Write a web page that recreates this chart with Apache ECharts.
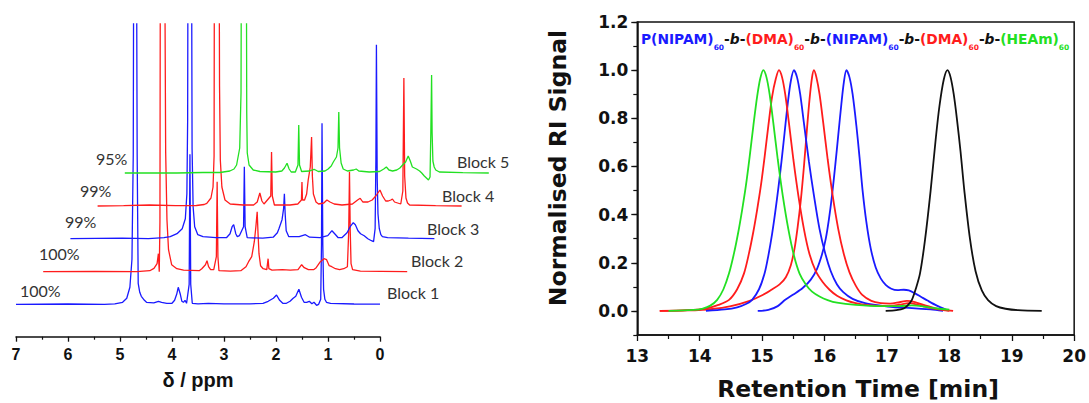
<!DOCTYPE html>
<html><head><meta charset="utf-8">
<script src="https://cdn.jsdelivr.net/npm/echarts@6/dist/echarts.min.js"></script>
<style>html,body{margin:0;padding:0;background:#fff}#c{width:1089px;height:403px}</style>
</head><body><div id="c"></div>
<script>
// ---------- DATA: 1H NMR spectra, [ppm, intensity] ----------
const block1 = [[7.0,0],[6.0,0.3],[5.3,0],[5.1,0.5],[4.95,2],[4.87,6],[4.81,17],[4.77,45],[4.745,150],[4.735,400],[4.685,400],[4.67,150],[4.65,21],[4.62,12],[4.59,8],[4.53,4],[4.49,2],[4.35,1.5],[4.26,3],[4.2,2],[4.1,1],[4.0,1],[3.95,4],[3.91,10],[3.88,17],[3.84,10],[3.81,3],[3.78,2],[3.75,4],[3.72,1],[3.67,20],[3.655,150],[3.64,20],[3.61,1],[3.5,0.5],[3.3,1],[3.0,0.5],[2.5,0.5],[2.25,1],[2.15,3],[2.05,6],[1.99,9.3],[1.93,4],[1.87,1],[1.80,1],[1.73,3],[1.67,6],[1.62,8],[1.56,15],[1.51,7],[1.46,2],[1.41,2],[1.36,3],[1.31,0.5],[1.27,2],[1.22,-1],[1.18,0],[1.14,5],[1.125,60],[1.115,181],[1.10,60],[1.085,15],[1.06,5],[1.03,2],[0.95,1],[0.5,0.3],[0,0.2]];
const block2 = [[7.0,0],[6.0,0.3],[5.2,0],[4.95,1],[4.87,3.3],[4.81,8],[4.785,18],[4.772,18],[4.768,0],[4.755,50],[4.745,400],[4.67,400],[4.645,120],[4.62,52],[4.59,22],[4.53,7],[4.43,3],[4.3,1.5],[4.0,1],[3.95,3],[3.88,7],[3.85,11],[3.82,5],[3.78,2],[3.72,2],[3.67,15],[3.655,90],[3.64,15],[3.62,1],[3.4,0.5],[3.2,1],[3.1,5],[3.05,10],[2.99,15],[2.94,30],[2.91,45],[2.885,60],[2.87,40],[2.85,18],[2.82,6],[2.77,3],[2.70,2],[2.675,13],[2.66,3],[2.6,1.5],[2.4,2],[2.25,1.5],[2.1,2],[2.03,7],[1.98,4],[1.9,2],[1.8,2],[1.75,4],[1.67,10],[1.6,13],[1.55,12],[1.5,6],[1.45,5],[1.38,3],[1.3,2],[1.22,3],[1.15,5],[1.125,40],[1.11,100],[1.095,40],[1.08,8],[1.05,2],[0.9,0.5],[0.5,0.3],[0.0,0]];
const block3 = [[7.0,0],[6.0,0.5],[5.5,0],[5.2,1],[5.08,2],[4.95,5],[4.85,10],[4.79,20],[4.76,45],[4.745,120],[4.735,400],[4.675,400],[4.66,90],[4.64,32],[4.61,12],[4.55,4],[4.45,2],[4.2,1],[4.0,1],[3.93,5],[3.89,12],[3.86,14],[3.82,5],[3.79,2],[3.75,3],[3.67,12],[3.655,72],[3.64,12],[3.6,1],[3.3,0.5],[3.1,1.5],[3.02,6],[2.99,10],[2.93,19],[2.9,30],[2.885,45],[2.87,25],[2.85,8],[2.8,2],[2.6,2],[2.48,4],[2.4,1.5],[2.2,1],[2.05,3],[1.97,8],[1.9,4],[1.85,1],[1.78,1],[1.68,6],[1.62,12],[1.56,16],[1.52,14],[1.47,8],[1.42,5],[1.35,3],[1.28,0],[1.21,-2],[1.17,-3],[1.14,10],[1.125,80],[1.115,194],[1.10,60],[1.085,25],[1.06,10],[1.03,4],[1.0,2],[0.9,1],[0.5,0.5],[0,0]];
const block4 = [[7.0,0],[6.5,0.3],[6.0,1],[5.5,0.3],[5.1,0.5],[4.95,1.5],[4.90,2.7],[4.82,8],[4.78,19],[4.76,50],[4.75,400],[4.67,400],[4.655,120],[4.64,46],[4.61,19],[4.55,6],[4.45,2],[4.2,1],[4.0,1],[3.93,4],[3.88,13],[3.84,5],[3.8,2],[3.67,10],[3.655,54],[3.64,10],[3.6,1],[3.3,1],[3.15,2],[3.08,6],[3.07,24],[3.06,6],[3.02,6],[2.98,12],[2.95,26],[2.91,39],[2.885,69],[2.87,30],[2.85,12],[2.80,4],[2.75,2],[2.65,3],[2.59,6],[2.53,4],[2.45,2],[2.3,1],[2.1,2],[2.0,6],[1.95,7.7],[1.9,4],[1.8,4],[1.72,6],[1.65,10],[1.57,16],[1.52,10],[1.46,5],[1.41,5],[1.36,6],[1.33,7],[1.29,4],[1.23,3],[1.17,2],[1.13,15],[1.11,128],[1.095,30],[1.07,8],[1.04,3],[1.0,1],[0.5,0.3],[0,0]];
const block5 = [[7.0,0],[6.0,0],[5.5,0.5],[5.17,0.5],[4.98,2],[4.90,4],[4.85,8],[4.79,25],[4.765,80],[4.75,400],[4.67,400],[4.655,60],[4.645,20],[4.61,8],[4.53,3],[4.4,1.5],[4.1,1],[3.98,2],[3.93,5],[3.88,9.7],[3.84,4],[3.80,1],[3.72,1],[3.67,8],[3.655,48],[3.64,8],[3.6,1.5],[3.45,2],[3.36,3.7],[3.28,1.5],[3.15,2],[3.09,4],[3.03,7],[2.99,11],[2.93,16],[2.9,25],[2.885,61],[2.87,25],[2.84,10],[2.80,4],[2.72,2],[2.6,3],[2.55,4],[2.5,2],[2.3,1],[2.1,1.5],[2.02,4],[1.97,6],[1.92,3],[1.85,2],[1.77,3],[1.71,5],[1.64,9],[1.6,11],[1.55,17],[1.51,12],[1.47,6],[1.39,4],[1.33,2],[1.29,0],[1.24,-3],[1.20,-5],[1.16,-7],[1.13,-4],[1.115,40],[1.10,98],[1.09,40],[1.075,12],[1.05,6],[1.02,3],[0.95,1],[0.5,0.3],[0,0]];
const blockNames = ['Block 1','Block 2','Block 3','Block 4','Block 5'];
const conversions = ['100%','100%','99%','99%','95%'];
const ppmAxisName = 'δ / ppm';

// ---------- DATA: SEC traces, [retention time (min), normalised RI] ----------
const secBlack = [[16.98,0],[17.15,0.003],[17.27,0.01],[17.34,0.025],[17.40,0.046],[17.46,0.09],[17.53,0.156],[17.61,0.295],[17.70,0.5],[17.78,0.71],[17.84,0.848],[17.91,0.96],[17.97,1.0],[18.02,0.97],[18.07,0.9],[18.12,0.8],[18.18,0.66],[18.24,0.5],[18.33,0.3],[18.42,0.165],[18.52,0.085],[18.62,0.045],[18.75,0.02],[18.9,0.009],[19.1,0.003],[19.48,0]];
const secBlock1 = [[14.93,0],[15.1,0.004],[15.25,0.02],[15.37,0.046],[15.5,0.068],[15.65,0.095],[15.78,0.13],[15.88,0.175],[15.96,0.235],[16.02,0.3],[16.07,0.38],[16.12,0.48],[16.17,0.6],[16.22,0.73],[16.27,0.86],[16.31,0.95],[16.35,1.0],[16.4,0.97],[16.45,0.9],[16.51,0.77],[16.56,0.64],[16.61,0.5],[16.67,0.37],[16.74,0.26],[16.82,0.18],[16.9,0.135],[16.98,0.108],[17.07,0.092],[17.17,0.086],[17.27,0.088],[17.35,0.085],[17.45,0.073],[17.55,0.058],[17.65,0.043],[17.8,0.022],[17.95,0.005]];
const secBlock2 = [[13.36,0],[13.8,0.002],[14.2,0.008],[14.5,0.02],[14.8,0.042],[15.0,0.065],[15.15,0.088],[15.28,0.11],[15.38,0.14],[15.46,0.19],[15.52,0.26],[15.57,0.35],[15.62,0.46],[15.67,0.6],[15.72,0.76],[15.76,0.88],[15.8,0.97],[15.83,1.0],[15.87,0.97],[15.92,0.9],[15.98,0.78],[16.05,0.63],[16.13,0.48],[16.22,0.34],[16.31,0.235],[16.4,0.16],[16.5,0.105],[16.6,0.068],[16.75,0.042],[16.9,0.032],[17.05,0.03],[17.2,0.036],[17.32,0.042],[17.45,0.037],[17.6,0.024],[17.8,0.01],[18.06,0]];
const secBlock3 = [[14.1,0],[14.4,0.006],[14.6,0.015],[14.75,0.03],[14.84,0.046],[14.95,0.09],[15.04,0.156],[15.1,0.23],[15.16,0.32],[15.21,0.41],[15.26,0.51],[15.31,0.62],[15.36,0.74],[15.41,0.86],[15.46,0.955],[15.51,1.0],[15.56,0.97],[15.61,0.9],[15.67,0.78],[15.75,0.62],[15.83,0.48],[15.92,0.34],[16.01,0.24],[16.1,0.165],[16.2,0.11],[16.3,0.078],[16.45,0.05],[16.65,0.032],[16.9,0.022],[17.1,0.016],[17.4,0.012],[17.7,0.006],[17.9,0]];
const secBlock4 = [[13.36,0],[13.8,0.003],[14.1,0.01],[14.3,0.025],[14.47,0.046],[14.6,0.09],[14.71,0.156],[14.79,0.24],[14.86,0.33],[14.92,0.42],[14.98,0.52],[15.04,0.64],[15.1,0.77],[15.16,0.89],[15.22,0.965],[15.27,1.0],[15.32,0.97],[15.37,0.9],[15.43,0.78],[15.5,0.63],[15.58,0.48],[15.67,0.34],[15.76,0.235],[15.86,0.165],[15.97,0.12],[16.08,0.088],[16.2,0.063],[16.35,0.044],[16.5,0.032],[16.7,0.024],[17.0,0.02],[17.2,0.026],[17.35,0.032],[17.5,0.025],[17.7,0.012],[18.0,0]];
const secBlock5 = [[13.5,0],[13.9,0.004],[14.05,0.01],[14.17,0.022],[14.28,0.046],[14.38,0.09],[14.47,0.156],[14.55,0.24],[14.62,0.33],[14.68,0.42],[14.74,0.52],[14.8,0.64],[14.86,0.77],[14.92,0.89],[14.97,0.965],[15.02,1.0],[15.07,0.97],[15.12,0.9],[15.18,0.78],[15.25,0.63],[15.33,0.48],[15.42,0.34],[15.51,0.23],[15.6,0.155],[15.7,0.11],[15.8,0.08],[15.92,0.06],[16.05,0.045],[16.2,0.034],[16.5,0.025],[16.9,0.02],[17.2,0.02],[17.4,0.023],[17.6,0.018],[17.8,0.01],[18.0,0.005]];
const secYTicks = [0, 0.2, 0.4, 0.6, 0.8, 1.0, 1.2];
const secXName = 'Retention Time [min]';
const secYName = 'Normalised RI Signal';
const titleSegments = [
  ['P(NIPAM)','b'],['60','bs'],['-','k'],['b','ki'],['-','k'],
  ['(DMA)','r'],['60','rs'],['-','k'],['b','ki'],['-','k'],
  ['(NIPAM)','b'],['60','bs'],['-','k'],['b','ki'],['-','k'],
  ['(DMA)','r'],['60','rs'],['-','k'],['b','ki'],['-','k'],
  ['(HEAm)','g'],['60','gs']
];

// ---------- LAYOUT / STYLE ----------
const BLUE = '#1a1aff', RED = '#ff1c1c', GREEN = '#22e022', BLACK = '#111';
const nmrSpectra = [block1, block2, block3, block4, block5];
const nmrColors = [BLUE, RED, BLUE, RED, GREEN];
const nmrLeft = 16, nmrWidth = 364, nmrStep = 27.2, nmrTop = 24, nmrAxisY = 336.7;
const nmrBase = [304.3, 271.7, 238.7, 206, 173];
const blockLabelPos = [[387,292],[411,260],[427,228],[442,195],[457,161]];
const convLabelPos = [[20,290.5],[39,253.3],[65,221],[80,190],[96,158.3]];

const grids = [], xAxes = [], yAxes = [], series = [], graphics = [];
nmrSpectra.forEach((d, i) => {
  grids.push({left: nmrLeft + nmrStep * i, width: nmrWidth, top: nmrTop, height: nmrAxisY - nmrTop});
  const main = i === 0;
  xAxes.push({
    type: 'value', gridIndex: i, min: 0, max: 7, interval: 1, inverse: true, show: main,
    axisLine: {onZero: false, lineStyle: {color: BLACK, width: 1.5}},
    axisTick: {inside: false, length: 5, lineStyle: {color: BLACK, width: 1.3}},
    minorTick: {show: main, splitNumber: 2, length: 3, lineStyle: {color: BLACK, width: 1.2}},
    splitLine: {show: false},
    axisLabel: {margin: 10, color: BLACK, fontFamily: 'Liberation Sans', fontWeight: 'bold', fontSize: 16}
  });
  yAxes.push({type: 'value', gridIndex: i, show: false, min: -(nmrAxisY - nmrBase[i]), max: nmrBase[i] - nmrTop, splitLine: {show: false}});
  series.push({
    type: 'line', xAxisIndex: i, yAxisIndex: i, data: d, showSymbol: false, smooth: false, clip: true,
    lineStyle: {color: nmrColors[i], width: 1.3}, itemStyle: {color: nmrColors[i]}, silent: true, z: 2 + i
  });
  graphics.push({type: 'text', x: blockLabelPos[i][0], y: blockLabelPos[i][1], z: 100,
    style: {text: blockNames[i], fill: '#333', font: '16px Lato', textAlign: 'left', textVerticalAlign: 'middle'}});
  graphics.push({type: 'text', x: convLabelPos[i][0], y: convLabelPos[i][1], z: 100,
    style: {text: conversions[i], fill: '#333', font: '16px Lato', textAlign: 'left', textVerticalAlign: 'middle'}});
});
graphics.push({type: 'text', x: 198, y: 380, z: 100,
  style: {text: ppmAxisName, fill: BLACK, font: 'bold 20px "Liberation Sans"', textAlign: 'center', textVerticalAlign: 'middle'}});

// SEC panel
const G = 5;
grids.push({left: 637.3, top: 22, width: 442, height: 313, show: true, borderColor: BLACK, borderWidth: 1.5, backgroundColor: 'transparent'});
const secLabel = {color: BLACK, fontFamily: 'DejaVu Sans', fontWeight: 'bold', fontSize: 17};
xAxes.push({
  type: 'value', gridIndex: G, min: 13, max: 20, interval: 1,
  axisLine: {onZero: false, lineStyle: {color: BLACK, width: 1.5}},
  axisTick: {inside: false, length: 6, lineStyle: {color: BLACK, width: 1.3}},
  minorTick: {show: true, splitNumber: 2, length: 4, lineStyle: {color: BLACK, width: 1.2}},
  splitLine: {show: false}, axisLabel: Object.assign({margin: 12}, secLabel)
});
yAxes.push({
  type: 'value', gridIndex: G, min: -0.1, max: 1.2, position: 'left',
  axisLine: {onZero: false, lineStyle: {color: BLACK, width: 1.5}},
  axisTick: {inside: false, length: 6, customValues: secYTicks, lineStyle: {color: BLACK, width: 1.3}},
  splitLine: {show: false},
  axisLabel: Object.assign({margin: 9, customValues: secYTicks, formatter: v => Number(v).toFixed(1)}, secLabel)
});
yAxes.push({
  type: 'value', gridIndex: G, min: -0.1, max: 1.2, interval: 0.1, position: 'left', offset: 0,
  axisLine: {show: false}, axisLabel: {show: false}, splitLine: {show: false},
  axisTick: {inside: false, length: 4, lineStyle: {color: BLACK, width: 1.2}}
});
const secSeries = [[secBlock1, BLUE], [secBlock2, RED], [secBlock3, BLUE], [secBlock4, RED], [secBlock5, GREEN], [secBlack, BLACK]];
secSeries.forEach(([d, c], k) => {
  series.push({type: 'line', xAxisIndex: 5, yAxisIndex: 5, data: d, showSymbol: false, smooth: 0.3,
    lineStyle: {color: c, width: 1.8}, itemStyle: {color: c}, silent: true, z: 3 + k});
});
graphics.push({type: 'text', x: 858, y: 389, z: 100,
  style: {text: secXName, fill: BLACK, font: 'bold 23.5px "DejaVu Sans"', textAlign: 'center', textVerticalAlign: 'middle'}});
graphics.push({type: 'text', x: 558, y: 168, rotation: Math.PI / 2, z: 100,
  style: {text: secYName, fill: BLACK, font: 'bold 23.5px "DejaVu Sans"', textAlign: 'center', textVerticalAlign: 'middle'}});

const mainTok = (c) => ({color: c, fontFamily: 'DejaVu Sans', fontWeight: 'bold', fontSize: 13.8, lineHeight: 14, verticalAlign: 'top'});
const subTok = (c) => ({color: c, fontFamily: 'DejaVu Sans', fontWeight: 'bold', fontSize: 7.5, lineHeight: 19, verticalAlign: 'bottom'});
const titleRich = {
  b: mainTok(BLUE), bs: subTok(BLUE), r: mainTok(RED), rs: subTok(RED), g: mainTok(GREEN), gs: subTok(GREEN),
  k: mainTok(BLACK), ki: Object.assign(mainTok(BLACK), {fontStyle: 'italic'})
};
const titleText = titleSegments.map(([t, s]) => '{' + s + '|' + t + '}').join('');

const chart = echarts.init(document.getElementById('c'), null, {renderer: 'svg'});
chart.setOption({
  animation: false,
  backgroundColor: '#fff',
  title: {text: titleText, left: 641, top: 32, padding: 0, textStyle: {rich: titleRich}},
  grid: grids, xAxis: xAxes, yAxis: yAxes, series: series, graphic: graphics
});
</script></body></html>
